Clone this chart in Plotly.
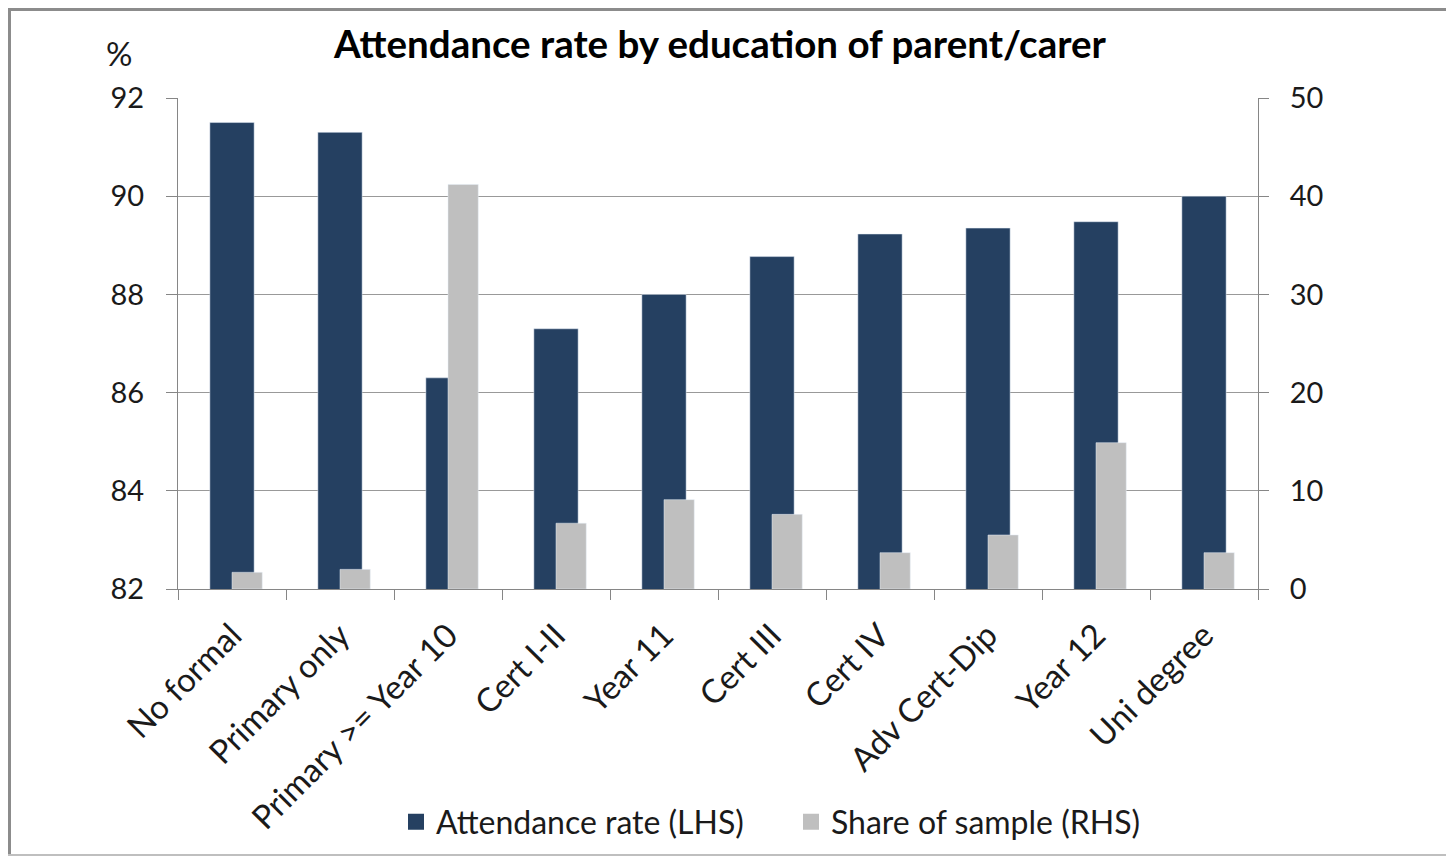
import plotly.graph_objects as go

categories = [
    "No formal",
    "Primary only",
    "Primary >= Year 10",
    "Cert I-II",
    "Year 11",
    "Cert III",
    "Cert IV",
    "Adv Cert-Dip",
    "Year 12",
    "Uni degree",
]
attendance_rate = [91.5, 91.3, 86.3, 87.3, 88.0, 88.77, 89.23, 89.35, 89.48, 90.0]
share_of_sample = [1.7, 2.0, 41.2, 6.7, 9.1, 7.6, 3.7, 5.5, 14.9, 3.7]

navy = "#254061"
grey = "#BFBFBF"
font = "Lato, Carlito, Calibri, sans-serif"

# page body has an 8px margin, so the figure is a bit smaller than the window
W, H = 1438, 848
L, T = 170, 90
PW, PH = 1080, 491


def px_x(v):
    return (v - L) / PW


def px_y(v):
    return (T + PH - v) / PH


fig = go.Figure()
fig.add_trace(
    go.Bar(
        x=categories,
        y=attendance_rate,
        name="Attendance rate (LHS)",
        marker=dict(color=navy),
        width=0.41,
        offset=-0.205,
        showlegend=False,
        yaxis="y",
    )
)
fig.add_trace(
    go.Bar(
        x=categories,
        y=share_of_sample,
        name="Share of sample (RHS)",
        marker=dict(color=grey),
        width=0.28,
        offset=0.0,
        showlegend=False,
        yaxis="y2",
    )
)
# legend entries with bigger square swatches
fig.add_trace(
    go.Scatter(
        x=[None], y=[None], mode="markers", name="Attendance rate (LHS)",
        marker=dict(symbol="square", size=16, color=navy),
    )
)
fig.add_trace(
    go.Scatter(
        x=[None], y=[None], mode="markers", name="Share of sample (RHS)",
        marker=dict(symbol="square", size=16, color=grey),
    )
)

fig.update_layout(
    width=W,
    height=H,
    margin=dict(l=L, r=W - L - PW, t=T, b=H - T - PH, pad=0, autoexpand=False),
    paper_bgcolor="white",
    plot_bgcolor="white",
    barmode="overlay",
    font=dict(family=font, size=29, color="#1a1a1a"),
    title=dict(
        text="<b>Attendance rate by education of parent/carer</b>",
        x=712 / W,
        xanchor="center",
        y=1 - 37 / H,
        yanchor="middle",
        font=dict(family=font, size=38.5, color="black"),
    ),
    xaxis=dict(
        type="category",
        tickangle=-45,
        tickson="boundaries",
        ticks="outside",
        ticklen=10,
        tickcolor="#868686",
        showline=True,
        linecolor="#868686",
        linewidth=1,
        showgrid=False,
        tickfont=dict(size=33),
        ticklabelstandoff=13,
    ),
    yaxis=dict(
        range=[82, 92],
        dtick=2,
        ticks="outside",
        ticklen=11,
        tickcolor="#868686",
        showline=True,
        linecolor="#868686",
        showgrid=True,
        gridcolor="#999999",
        gridwidth=1.3,
        zeroline=False,
        ticklabelstandoff=16,
    ),
    yaxis2=dict(
        range=[0, 50],
        dtick=10,
        overlaying="y",
        side="right",
        ticks="outside",
        ticklen=10,
        tickcolor="#868686",
        showline=True,
        linecolor="#868686",
        showgrid=False,
        zeroline=False,
        ticklabelstandoff=15,
    ),
    legend=dict(
        orientation="h",
        x=px_x(388),
        xanchor="left",
        y=px_y(814),
        yanchor="middle",
        font=dict(size=32),
        itemwidth=30,
        entrywidth=350,
        bgcolor="rgba(0,0,0,0)",
    ),
    annotations=[
        dict(
            text="%",
            xref="paper",
            yref="paper",
            x=px_x(111),
            y=px_y(45),
            xanchor="center",
            yanchor="middle",
            showarrow=False,
            font=dict(size=33),
        )
    ],
    shapes=[
        dict(type="line", xref="paper", yref="paper",
             x0=px_x(1.5), x1=px_x(1.5), y0=px_y(0), y1=px_y(H),
             line=dict(color="#8C8C8C", width=3)),
        dict(type="line", xref="paper", yref="paper",
             x0=px_x(0), x1=px_x(W), y0=px_y(1.5), y1=px_y(1.5),
             line=dict(color="#8C8C8C", width=3)),
        dict(type="line", xref="paper", yref="paper",
             x0=px_x(0), x1=px_x(W), y0=px_y(H - 1), y1=px_y(H - 1),
             line=dict(color="#BFBFBF", width=2)),
    ],
)

fig.write_html("out.html")
